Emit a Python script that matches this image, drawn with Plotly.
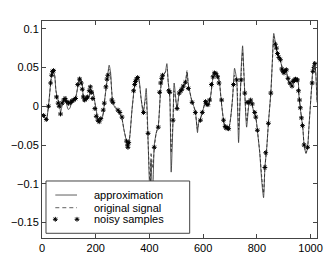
import plotly.graph_objects as go

# sample index grid for the traced curves
x_curve = [0, 6, 16, 24, 34, 40, 47, 52, 58, 66, 69, 77, 84, 91, 97, 103, 114, 124, 133, 140,
           151, 155, 166, 174, 184, 189, 197, 208, 215, 227, 234, 243, 250, 255, 263, 272, 284,
           297, 305, 316, 322, 328, 335, 343, 350, 356, 361, 369, 377, 384, 388, 393, 399, 403,
           406, 412, 418, 425, 433, 443, 451, 459, 465, 470, 476, 481, 488, 492, 503, 511, 521,
           534, 540, 545, 559, 564, 571, 579, 583, 590, 601, 608, 615, 624, 634, 640, 652, 661,
           667, 676, 683, 695, 709, 713, 717, 725, 728, 732, 738, 742, 747, 751, 755, 762, 770,
           777, 787, 796, 802, 811, 818, 825, 830, 837, 843, 852, 858, 863, 871, 877, 882, 889,
           896, 901, 908, 915, 919, 927, 938, 952, 957, 964, 971, 976, 983, 989, 994, 1004, 1009,
           1014, 1019, 1024]

approximation = [-0.010, -0.012, -0.018, 0.000, 0.036, 0.047, 0.040, 0.020, 0.010, 0.001, -0.008,
                 0.004, 0.010, 0.004, -0.004, -0.003, 0.008, 0.010, 0.025, 0.038,
                 0.025, 0.006, 0.009, 0.012, 0.018, 0.020, 0.005, -0.016, -0.020, -0.012, 0.010,
                 0.035, 0.053, 0.045, 0.006, -0.002, -0.006,
                 -0.015, -0.030, -0.047, -0.050, -0.035, -0.005, 0.022, 0.035, 0.038, 0.035, 0.010,
                 -0.009, 0.010, 0.023, -0.020, -0.090, -0.120,
                 -0.070, -0.120, -0.050, -0.035, -0.025, 0.027, 0.040, 0.044, 0.055, 0.031, 0.010,
                 -0.085, -0.018, 0.030, -0.003, 0.017, 0.022,
                 0.031, 0.044, 0.028, 0.005, 0.001, -0.006, -0.034, -0.022, -0.016, -0.003, 0.006,
                 0.000, 0.005, 0.030, 0.044, 0.042, 0.030,
                 0.008, -0.018, -0.028, -0.028, 0.008, 0.030, 0.049, 0.034, 0.000, -0.047, 0.010,
                 0.051, 0.078, 0.050, 0.017, -0.027, 0.001,
                 0.008, -0.005, -0.014, -0.031, -0.061, -0.096, -0.118, -0.079, -0.053, -0.022,
                 0.017, 0.060, 0.094, 0.077, 0.068, 0.064, 0.057,
                 0.047, 0.042, 0.047, 0.036, 0.030, 0.027, 0.034, 0.034, 0.012, -0.009, -0.027,
                 -0.050, -0.061, -0.053, -0.027, 0.025, 0.050,
                 0.058, 0.045, 0.005]

original = [-0.010, -0.012, -0.017, 0.000, 0.034, 0.045, 0.040, 0.020, 0.010, 0.003, 0.000,
            0.004, 0.009, 0.008, 0.002, 0.000, 0.006, 0.010, 0.024, 0.036,
            0.026, 0.008, 0.009, 0.012, 0.022, 0.018, 0.004, -0.015, -0.019, -0.010, 0.010,
            0.035, 0.048, 0.040, 0.008, 0.000, -0.006,
            -0.015, -0.030, -0.046, -0.051, -0.035, -0.005, 0.020, 0.034, 0.037, 0.033, 0.010,
            -0.005, 0.006, 0.010, -0.030, -0.080, -0.110,
            -0.060, -0.080, -0.055, -0.035, -0.025, 0.025, 0.038, 0.044, 0.048, 0.031, 0.012,
            -0.060, -0.018, 0.020, -0.002, 0.016, 0.022,
            0.031, 0.046, 0.028, 0.006, 0.001, -0.008, -0.030, -0.022, -0.016, -0.003, 0.005,
            0.002, 0.006, 0.030, 0.043, 0.042, 0.030,
            0.008, -0.018, -0.028, -0.028, 0.008, 0.028, 0.040, 0.032, 0.012, -0.030, 0.010,
            0.045, 0.070, 0.048, 0.017, -0.020, 0.002,
            0.007, -0.004, -0.014, -0.031, -0.060, -0.090, -0.112, -0.080, -0.053, -0.022,
            0.017, 0.058, 0.090, 0.078, 0.068, 0.063, 0.057,
            0.048, 0.043, 0.046, 0.037, 0.032, 0.033, 0.035, 0.034, 0.014, -0.008, -0.027,
            -0.050, -0.060, -0.053, -0.027, 0.025, 0.048,
            0.055, 0.045, 0.008]

x_samples = [6, 16, 24, 32, 36, 39, 43, 54, 60, 64, 69, 75, 81, 86, 92, 99, 107, 112, 118, 125,
             133, 140, 146, 150, 154, 159, 165, 170, 176, 180, 184, 189, 197, 202, 208, 213, 219,
             228, 232, 238, 242, 245, 260, 264, 283, 290, 298, 315, 318, 320, 323, 341, 345, 348,
             352, 356, 378, 395, 418, 433, 438, 442, 446, 449, 472, 476, 488, 503, 511, 517, 521,
             526, 534, 545, 559, 571, 590, 597, 609, 612, 618, 624, 631, 637, 642, 648, 654, 659,
             669, 676, 682, 685, 691, 695, 713, 725, 742, 755, 764, 770, 777, 783, 792, 796, 802,
             830, 833, 843, 852, 869, 873, 877, 882, 888, 893, 897, 901, 906, 910, 916, 923, 931,
             936, 940, 944, 947, 951, 955, 959, 962, 966, 970, 976, 989, 1006, 1009, 1013, 1016]

noisy_samples = [-0.012, -0.017, 0.000, 0.030, 0.040, 0.045, 0.046, 0.012, 0.004, 0.000, -0.010,
                 0.004, 0.008, 0.010, 0.006, 0.004, 0.005, 0.007, 0.008, 0.010,
                 0.028, 0.035, 0.030, 0.022, 0.012, 0.008, 0.010, 0.012, 0.020, 0.025, 0.018,
                 0.010, -0.003, -0.013, -0.018, -0.020, -0.016,
                 -0.005, 0.004, 0.025, 0.035, 0.040, 0.008, 0.005, -0.005, -0.008, -0.014, -0.045,
                 -0.050, -0.053, -0.047, 0.020, 0.028, 0.032,
                 0.035, 0.037, -0.008, -0.035, -0.053, -0.027, 0.018, 0.030, 0.036, 0.040, 0.020,
                 0.018, -0.018, -0.003, 0.017, 0.020, 0.022,
                 0.026, 0.031, 0.023, 0.005, -0.008, -0.018, -0.008, 0.006, 0.003, 0.002, 0.008,
                 0.028, 0.038, 0.043, 0.042, 0.038, 0.030,
                 0.008, -0.018, -0.026, -0.028, -0.028, -0.029, 0.028, 0.034, 0.034, 0.017, 0.005,
                 0.005, 0.008, 0.003, -0.008, -0.014, -0.031,
                 -0.079, -0.060, -0.022, 0.017, 0.080, 0.075, 0.068, 0.063, 0.060, 0.048, 0.045,
                 0.043, 0.046, 0.047, 0.036, 0.030, 0.026,
                 0.032, 0.034, 0.035, 0.034, 0.034, 0.020, 0.008, -0.002, -0.015, -0.025, -0.050,
                 -0.053, 0.030, 0.045, 0.050, 0.055]

x_ticks = [0, 200, 400, 600, 800, 1000]
y_ticks = [0.1, 0.05, 0, -0.05, -0.1, -0.15]
y_tick_text = ["0.1", "0.05", "0", "\u22120.05", "\u22120.1", "\u22120.15"]
legend_labels = ["approximation", "original signal", "noisy samples"]

FONT = "Liberation Sans, Arial, Helvetica, sans-serif"
LINE_COL = "#1a1a1a"
AX_COL = "#444444"

fig = go.Figure()
fig.add_trace(go.Scatter(x=x_curve, y=approximation, mode="lines", name=legend_labels[0],
                         line=dict(color=LINE_COL, width=0.7, shape="spline", smoothing=0.6),
                         showlegend=False))
fig.add_trace(go.Scatter(x=x_curve, y=original, mode="lines", name=legend_labels[1],
                         line=dict(color=LINE_COL, width=0.7, dash="3px,2px",
                                   shape="spline", smoothing=0.6),
                         showlegend=False))
fig.add_trace(go.Scatter(x=x_samples, y=noisy_samples, mode="markers", name=legend_labels[2],
                         marker=dict(symbol="asterisk-open", size=4, color="black",
                                     line=dict(color="black", width=1)),
                         showlegend=False))

# ---- legend box drawn on an overlay axis (unit coordinates of the plot area) ----
bx0, bx1, by0, by1 = 0.0145, 0.537, 0.0217, 0.2627
row_y = [0.198, 0.1396, 0.0862]
gx0, gx1, tx = 0.0484, 0.1273, 0.1818
ov = dict(xaxis="x2", yaxis="y2", showlegend=False, hoverinfo="skip")
fig.add_trace(go.Scatter(x=[bx0, bx1, bx1, bx0, bx0], y=[by0, by0, by1, by1, by0],
                         mode="lines", fill="toself", fillcolor="white",
                         line=dict(color=AX_COL, width=1), **ov))
fig.add_trace(go.Scatter(x=[gx0, gx1], y=[row_y[0]] * 2, mode="lines",
                         line=dict(color=LINE_COL, width=0.7), **ov))
fig.add_trace(go.Scatter(x=[gx0, gx1], y=[row_y[1]] * 2, mode="lines",
                         line=dict(color=LINE_COL, width=0.7, dash="4px,3px"), **ov))
fig.add_trace(go.Scatter(x=[gx0, gx1], y=[row_y[2]] * 2, mode="markers",
                         marker=dict(symbol="asterisk-open", size=4, color="black",
                                     line=dict(color="black", width=1)), **ov))
for lab, yy in zip(legend_labels, row_y):
    fig.add_annotation(x=tx, y=yy, xref="x2", yref="y2", text=lab, showarrow=False,
                       xanchor="left", yanchor="middle",
                       font=dict(family=FONT, size=11, color="black"))

axis_common = dict(showline=True, linecolor=AX_COL, linewidth=1, mirror="allticks",
                   ticks="inside", ticklen=4, tickcolor=AX_COL, showgrid=False,
                   zeroline=False, automargin=False,
                   tickfont=dict(family=FONT, size=11, color="black"))

fig.update_layout(
    xaxis=dict(range=[0, 1024], tickvals=x_ticks, ticktext=[str(v) for v in x_ticks],
               **axis_common),
    yaxis=dict(range=[-0.17, 0.11], tickvals=y_ticks, ticktext=y_tick_text, **axis_common),
    xaxis2=dict(range=[0, 1], overlaying="x", anchor="y2", visible=False, automargin=False),
    yaxis2=dict(range=[0, 1], overlaying="y", anchor="x2", visible=False, automargin=False),
    width=327, height=264,
    margin=dict(l=42, r=10, t=21, b=26),
    paper_bgcolor="white", plot_bgcolor="white",
    font=dict(family=FONT, size=11, color="black"),
    showlegend=False,
    hovermode=False,
)

# remove the browser's default page margin so the figure fills the window exactly
fig.write_html("out.html",
               config={"displayModeBar": False, "staticPlot": True},
               post_script="document.body.style.margin='0';"
                           "document.documentElement.style.overflow='hidden';")
